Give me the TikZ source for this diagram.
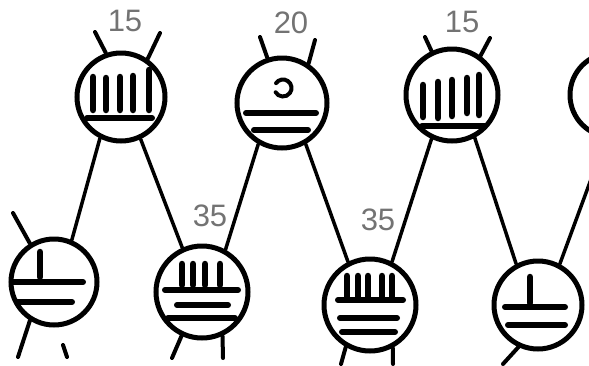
\documentclass[tikz,border=0pt]{standalone}
\usepackage{fontspec}
\setmainfont{Liberation Sans}
\begin{document}
\begin{tikzpicture}[x=1pt,y=1pt,yscale=-1,
  ring/.style={circle,draw=black,line width=5pt,inner sep=0pt,minimum size=#1},
  link/.style={line width=3.5pt,line cap=round},
  stub/.style={line width=4pt,line cap=round},
  dotstroke/.style={line width=6.5pt,line cap=round},
  barstroke/.style={line width=6pt,line cap=round},
  shellstroke/.style={line width=4pt,line cap=round},
  lab/.style={text=black!55,font=\fontsize{31}{31}\selectfont,inner sep=0pt}]
\useasboundingbox (0,0) rectangle (589,365);
\clip (0,0) rectangle (589,365);
\fill[white] (0,0) rectangle (589,365);
% circles
\node[ring=88pt] (c1) at (121,97) {};
\node[ring=90pt] (c2) at (282,103) {};
\node[ring=92pt] (c3) at (452,95) {};
\node[ring=84pt] (c4) at (612,95) {};
\node[ring=86pt] (cA) at (54,282) {};
\node[ring=92pt] (cB) at (202,292) {};
\node[ring=92pt] (cC) at (370,305) {};
\node[ring=88pt] (cD) at (538,305) {};
% connectors
\draw[link] (c1.243) -- (cA.67);
\draw[link] (c1.295) -- (cB.114);
\draw[link] (c2.240) -- (cB.61);
\draw[link] (c2.300) -- (cC.117);
\draw[link] (c3.245) -- (cC.63);
\draw[link] (c3.298) -- (cD.118);
\draw[link] (c4.262) -- (cD.62);
% stubs top
\coordinate (s1a) at (95,32);  \draw[stub] (s1a) -- (c1.109);
\coordinate (s1b) at (160,33); \draw[stub] (s1b) -- (c1.55);
\coordinate (s2a) at (260,37); \draw[stub] (s2a) -- (c2.108);
\coordinate (s2b) at (315,40); \draw[stub] (s2b) -- (c2.56);
\coordinate (s3a) at (425,37); \draw[stub] (s3a) -- (c3.115);
\coordinate (s3b) at (490,38); \draw[stub] (s3b) -- (c3.54);
\coordinate (sAt) at (13,213); \draw[stub] (sAt) -- (cA.122);
% stubs bottom
\coordinate (sAb) at (18,357); \draw[stub] (sAb) -- (cA.238);
\coordinate (sAm1) at (63,345); \coordinate (sAm2) at (67,357); \draw[stub] (sAm1) -- (sAm2);
\coordinate (sBa) at (172,358); \draw[stub] (sBa) -- (cB.245);
\coordinate (sBb) at (223,358); \draw[stub] (sBb) -- (cB.295);
\coordinate (sCa) at (341,364); \draw[stub] (sCa) -- (cC.240);
\coordinate (sCb) at (393,364); \draw[stub] (sCb) -- (cC.298);
\coordinate (sDa) at (503,364); \draw[stub] (sDa) -- (cD.245);
% numerals circle 1
\foreach \x/\t/\b in {93/77/110,106/78/110,120/77/110,133/76/110,149/70/110}
  \draw[dotstroke] (\x,\t) -- (\x,\b);
\draw[barstroke] (87,118) -- (152,118);
% circle 2
\draw[shellstroke] ([shift={(-145:8.5)}]283,88) arc[start angle=-145,end angle=150,radius=8.5];
\draw[barstroke] (246,113) -- (316,113);
\draw[barstroke] (254,130) -- (308,130);
% circle 3
\foreach \x/\t/\b in {423/85/117,438/82/118,452/80/116,467/78/113,479/75/115}
  \draw[dotstroke] (\x,\t) -- (\x,\b);
\draw[barstroke] (422,126) -- (485,126);
% circle A
\draw[dotstroke] (40,252) -- (40,277);
\draw[barstroke] (12,282) -- (83,282);
\draw[barstroke] (17,302) -- (72,302);
% circle B
\foreach \x in {182,193,205,220}
  \draw[dotstroke] (\x,264) -- (\x,285);
\draw[barstroke] (165,290) -- (238,290);
\draw[barstroke] (177,305) -- (228,305);
\draw[barstroke] (168,318) -- (235,318);
% circle C
\foreach \x in {347,358,368,382,392}
  \draw[dotstroke] (\x,276) -- (\x,297);
\draw[barstroke] (338,300) -- (403,300);
\draw[barstroke] (340,318) -- (397,318);
\draw[barstroke] (342,332) -- (395,332);
% circle D
\draw[dotstroke] (530,277) -- (530,303);
\draw[barstroke] (505,307) -- (565,307);
\draw[barstroke] (508,325) -- (565,325);
% labels
\node[lab] (l1) at (125,21) {15};
\node[lab] (l2) at (291,23) {20};
\node[lab] (l3) at (462,22) {15};
\node[lab] (l4) at (210,216) {35};
\node[lab] (l5) at (378,220) {35};
\end{tikzpicture}
\end{document}
